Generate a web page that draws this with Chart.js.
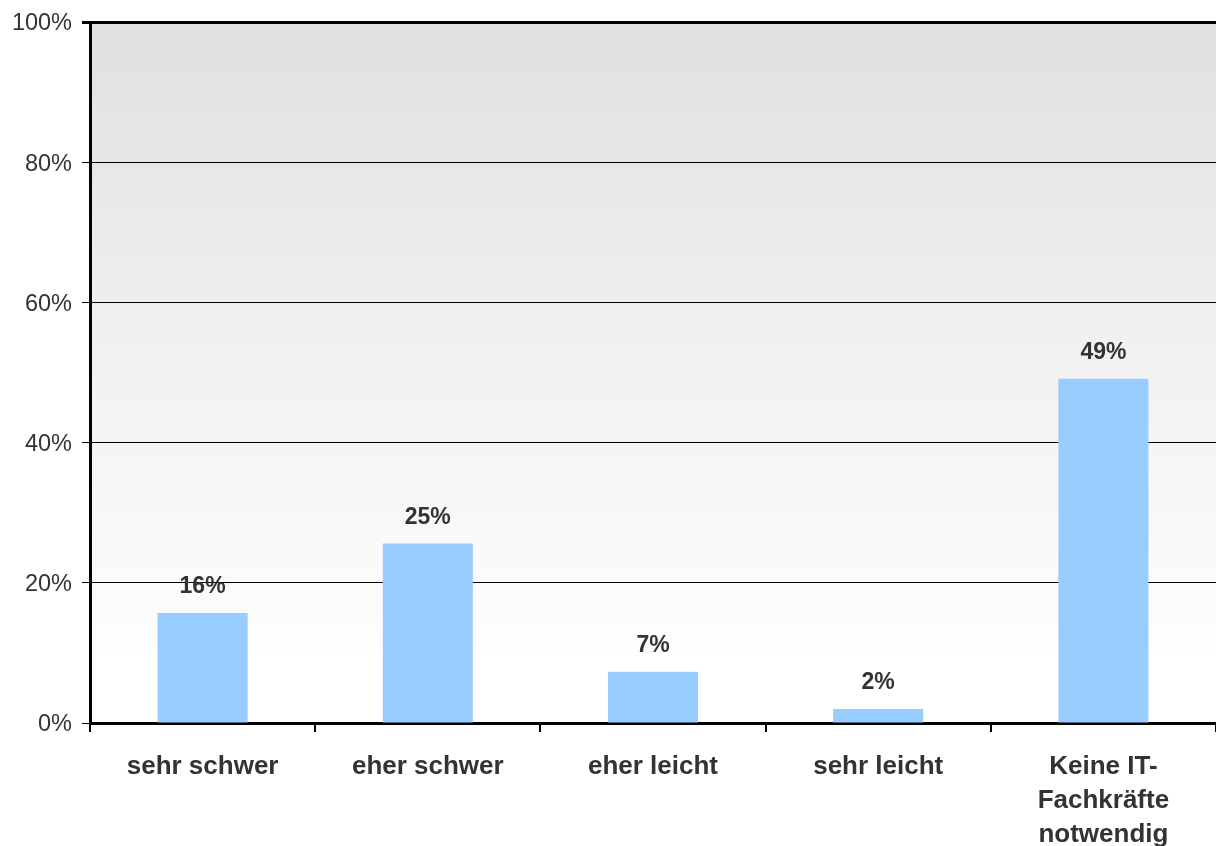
<!DOCTYPE html>
<html>
<head>
<meta charset="utf-8">
<script src="https://cdn.jsdelivr.net/npm/chart.js@4"></script>
<style>
html,body{margin:0;padding:0;background:#fff;}
#wrap{width:1216px;height:846px;}
</style>
</head>
<body>
<div id="wrap"><canvas id="c" width="1216" height="846"></canvas></div>
<script>
const categories = [["sehr schwer"], ["eher schwer"], ["eher leicht"], ["sehr leicht"], ["Keine IT-", "Fachkräfte", "notwendig"]];
const values = [15.7, 25.6, 7.3, 2.0, 49.1];
const valueLabels = ["16%", "25%", "7%", "2%", "49%"];
const yTicks = [0, 20, 40, 60, 80, 100];

const bgPlugin = {
  id: 'bg',
  beforeDraw(chart) {
    const {ctx, chartArea: a} = chart;
    const g = ctx.createLinearGradient(0, a.top, 0, a.bottom);
    g.addColorStop(0, '#e0e0e0');
    g.addColorStop(0.5, '#f2f2f2');
    g.addColorStop(0.88, '#fdfdfd');
    g.addColorStop(0.9, '#ffffff');
    g.addColorStop(1, '#ffffff');
    ctx.save();
    ctx.fillStyle = g;
    ctx.fillRect(a.left, a.top, a.right - a.left, a.bottom - a.top);
    ctx.restore();
  }
};

const labelPlugin = {
  id: 'vlabels',
  afterDatasetsDraw(chart) {
    const {ctx} = chart;
    const meta = chart.getDatasetMeta(0);
    ctx.save();
    ctx.font = 'bold 23px "Liberation Sans", Arial, sans-serif';
    ctx.fillStyle = '#333333';
    ctx.textAlign = 'center';
    ctx.textBaseline = 'alphabetic';
    meta.data.forEach((bar, i) => {
      ctx.fillText(valueLabels[i], bar.x, bar.y - 20);
    });
    ctx.restore();
  }
};

new Chart(document.getElementById('c'), {
  type: 'bar',
  data: {
    labels: categories,
    datasets: [{
      data: values,
      backgroundColor: '#99ccff',
      borderWidth: 0,
      categoryPercentage: 0.4,
      barPercentage: 1.0
    }]
  },
  options: {
    responsive: false,
    animation: false,
    layout: { padding: { top: 22, right: 0, left: 0, bottom: 0 } },
    plugins: { legend: { display: false }, tooltip: { enabled: false } },
    scales: {
      x: {
        grid: { display: true, offset: true, drawOnChartArea: false, color: '#000', lineWidth: 2, tickLength: 9 },
        border: { display: true, color: '#000', width: 3 },
        ticks: {
          color: '#333333',
          font: { family: '"Liberation Sans", Arial, sans-serif', size: 26, weight: 'bold', lineHeight: 1.31 },
          padding: 18,
          maxRotation: 0,
          autoSkip: false
        },
        afterFit(s) { s.height = 123; }
      },
      y: {
        min: 0, max: 100,
        afterBuildTicks(s) { s.ticks = yTicks.map(v => ({value: v})); },
        grid: {
          color: '#000',
          lineWidth: (c) => (c.tick && c.tick.value === 100 ? 3 : 1),
          tickLength: 8,
          drawTicks: true
        },
        border: { display: true, color: '#000', width: 3 },
        ticks: {
          color: '#333333',
          font: { family: '"Liberation Sans", Arial, sans-serif', size: 23.5, lineHeight: 1.0 },
          padding: 10,
          labelOffset: 2,
          callback: (v) => v + '%'
        },
        afterFit(s) { s.width = 90; }
      }
    }
  },
  plugins: [bgPlugin, labelPlugin]
});
</script>
</body>
</html>
